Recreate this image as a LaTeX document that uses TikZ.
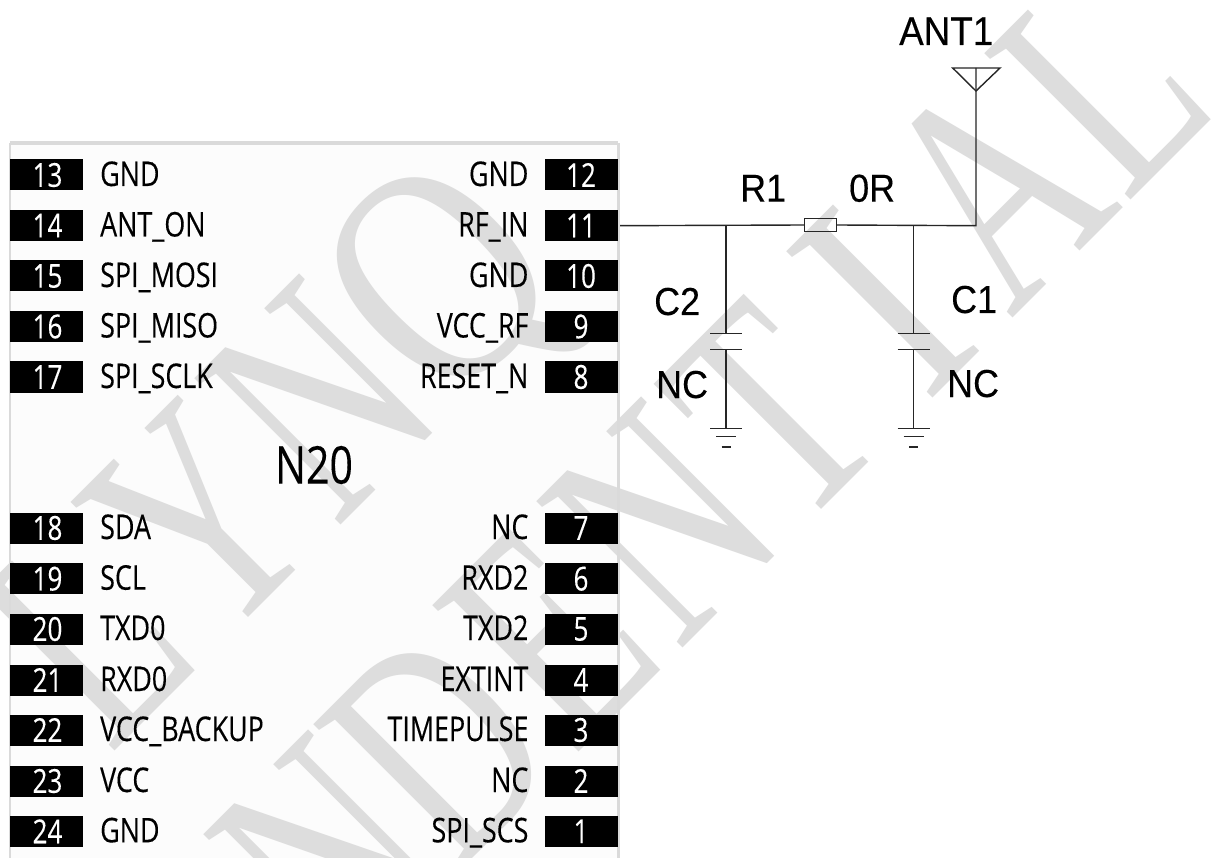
\documentclass[tikz,border=0pt]{standalone}
\usepackage{fontspec}
\setmainfont{Liberation Sans}
\newfontfamily\chipfont[FakeStretch=0.79,FakeBold=0.2]{Open Sans}
\newfontfamily\schfont[FakeStretch=0.92,FakeBold=0.25]{Liberation Sans}
\newfontfamily\markfont[FakeStretch=0.70]{Liberation Serif}
\newfontfamily\markwide[FakeStretch=0.80]{Liberation Serif}
\definecolor{markgray}{HTML}{DDDDDD}
\definecolor{chipedge}{HTML}{DADADA}
\definecolor{chipfill}{HTML}{FCFCFC}
\tikzset{
  wm/.style={font=\markfont\fontsize{316}{316}\selectfont,text=markgray,rotate=45,inner sep=0pt,anchor=base},
  wmwide/.style={wm,font=\markwide\fontsize{316}{316}\selectfont},
  padbox/.style={fill=black,text=white,minimum width=73pt,minimum height=31pt,inner sep=0pt,font=\chipfont\fontsize{33}{33}\selectfont},
  lab/.style={font=\chipfont\fontsize{34}{34}\selectfont,inner sep=0pt,text=black},
  sch/.style={font=\schfont\fontsize{39}{39}\selectfont,inner sep=0pt,anchor=base west},
  wire/.style={draw=black!85,line width=1.4pt},
}
\begin{document}
\begin{tikzpicture}[x=1pt,y=-1pt]
\useasboundingbox (0,0) rectangle (1215,858);
\fill[white] (0,0) rectangle (1215,858);
% chip body
\node[draw=none,fill=chipfill,minimum width=608pt,minimum height=715pt,anchor=north west,inner sep=0pt] (chip) at (10,143) {};
\begin{scope}
\clip (0,0) rectangle (1215,858);
% watermark
\node[wm] (wL) at (158,708) {L};
\node[wm] (wY) at (272,594) {Y};
\node[wm] (wN) at (393,473) {N};
\node[wmwide] (wQ) at (510,350) {Q};
\node[wm] (cN) at (402,929) {N};
\node[wm] (cD) at (512,819) {D};
\node[wm] (cE) at (622,709) {E};
\node[wm] (cN2) at (735,596) {N};
\node[wm] (cT) at (845,486) {T};
\node[wmwide] (cI) at (956,375) {I};
\node[wm] (cA) at (1068,263) {A};
\node[wm] (cL) at (1174,157) {L};
\end{scope}
\draw[chipedge,line width=1.2pt] (chip.south west) -- (chip.north west);
\draw[chipedge,line width=2.5pt] (chip.south east) -- (chip.north east);
\draw[chipedge,line width=4pt] (chip.north west) -- (chip.north east);
% pads
\foreach \n/\t/\y in {13/GND/175,14/ANT\_ON/225.5,15/SPI\_MOSI/276,16/SPI\_MISO/326.5,17/SPI\_SCLK/377,18/SDA/528,19/SCL/578.7,20/TXD0/629,21/RXD0/680,22/VCC\_BACKUP/730,23/VCC/781,24/GND/831.3}{
  \node[padbox] (p\n) at (46.5,\y) {\hspace{2pt}\n};
  \node[lab,anchor=base west] (l\n) at (100,\y+11) {\t};
}
\foreach \n/\t/\y in {12/GND/175,11/RF\_IN/225.5,10/GND/276,9/VCC\_RF/326.5,8/RESET\_N/377,7/NC/528,6/RXD2/578.7,5/TXD2/629,4/EXTINT/680,3/TIMEPULSE/730,2/NC/781,1/SPI\_SCS/831.3}{
  \node[padbox] (p\n) at (581,\y) {\n};
  \node[lab,anchor=base east] (l\n) at (528.6,\y+11) {\t};
}
\node[font=\chipfont\fontsize{52}{52}\selectfont,inner sep=0pt,text=black] (title) at (314,465) {N20};
% circuit coordinates
\coordinate (start) at (620,225.7);
\coordinate (corner) at (976,225.7);
\coordinate (anttop) at (976,68);
\coordinate (antl) at (952.7,68);
\coordinate (antr) at (1000,68);
\coordinate (anttip) at (976,91);
\node[draw=black!85,line width=1.2pt,fill=none,minimum width=32pt,minimum height=12.5pt,inner sep=0pt] (r1) at (820.5,225) {};
\draw[wire] (start) -- (r1.west);
\draw[wire] (r1.east) -- (corner) -- (anttop);
\draw[wire] (antl) -- (antr) -- (anttip) -- cycle;
\foreach \nm/\x in {b/726,a/913.7}{
  \coordinate (j\nm) at (\x,225.7);
  \coordinate (c\nm t) at (\x,333.3);
  \coordinate (c\nm b) at (\x,349.7);
  \coordinate (g\nm) at (\x,428.3);
  \coordinate (g\nm m) at (\x,436.7);
  \coordinate (g\nm s) at (\x,447);
  \draw[wire] (j\nm) -- (c\nm t);
  \draw[wire] (c\nm b) -- (g\nm);
  \draw[wire] ([xshift=-16pt]c\nm t) -- ([xshift=16pt]c\nm t);
  \draw[wire] ([xshift=-16pt]c\nm b) -- ([xshift=16pt]c\nm b);
  \draw[wire] ([xshift=-16pt]g\nm) -- ([xshift=16pt]g\nm);
  \draw[wire] ([xshift=-10pt]g\nm m) -- ([xshift=10pt]g\nm m);
  \draw[wire] ([xshift=-4.5pt]g\nm s) -- ([xshift=4.5pt]g\nm s);
}
\node[sch,font=\schfont\fontsize{40}{40}\selectfont] (ant) at (899,45) {ANT1};
\node[sch] (tr1) at (740,201.7) {R1};
\node[sch] (t0r) at (849,201.7) {0R};
\node[sch] (tc2) at (654,315) {C2};
\node[sch] (tn2) at (656,398) {NC};
\node[sch] (tc1) at (951,313) {C1};
\node[sch] (tn1) at (947,397) {NC};
\end{tikzpicture}
\end{document}
